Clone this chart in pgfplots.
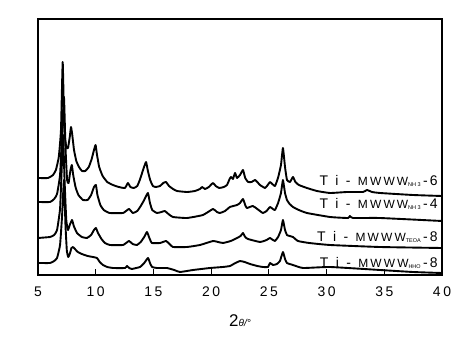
\documentclass[border=0pt]{standalone}
\usepackage{fontspec}
\setmainfont{Liberation Sans}
\newfontfamily\spfont[LetterSpace=18]{Liberation Sans}
\newfontfamily\spwfont[LetterSpace=25]{Liberation Sans}
\usepackage{pgfplots}
\pgfplotsset{compat=1.18}
\newcommand{\lab}[2]{{\spwfont\fontsize{14}{14}\selectfont T i - }{\spfont\fontsize{12}{12}\selectfont MWWW}{\fontsize{5.5}{5.5}\selectfont\raisebox{-2pt}{#1}}{\spwfont\fontsize{14}{14}\selectfont\,-\,#2}}
\pgfplotsset{xrdline/.style={black, line width=1.9pt, line join=round, smooth, tension=0.25, mark=none}}
\begin{document}
\begin{tikzpicture}
\begin{axis}[
  at={(0,0)}, anchor=south west,
  scale only axis, width=404bp, height=256bp,
  xmin=5, xmax=40, ymin=0, ymax=256,
  axis line style={line width=1.8pt},
  xtick={5,10,...,40}, ytick=\empty,
  tick align=inside, xtick pos=bottom,
  major tick length=6bp,
  tick style={line width=0.9pt, black},
  /pgf/number format/assume math mode=true,
  xticklabel style={font=\spfont\fontsize{14}{14}\selectfont, yshift=-8bp},
  xlabel={{\fontsize{17}{17}\selectfont 2}{\fontsize{10}{10}\selectfont\itshape θ/°}},
  xlabel style={yshift=-11bp},
  clip=false,
]
\addplot[xrdline] coordinates {
(5.00,97)(5.87,97)(6.30,100)(6.55,105)(6.80,118)(6.99,145)(7.14,213)(7.28,145)(7.45,128)(7.60,127)(7.75,138)(7.86,148)(7.97,140)(8.12,125)(8.32,114)(8.55,108)(8.81,104)(9.10,104)(9.40,108)(9.65,116)(9.85,125)(9.99,130)(10.10,121)(10.30,108)(10.60,99)(11.00,93)(11.49,90)(12.00,88)(12.53,87)(12.79,92)(13.00,88)(13.30,87)(13.60,89)(13.85,96)(14.10,105)(14.36,113)(14.52,104)(14.72,95)(14.95,89)(15.20,88)(15.57,89)(15.85,92)(16.09,93)(16.35,89)(16.70,86)(17.04,84)(17.91,83)(18.60,84)(19.03,86)(19.21,88)(19.47,86)(19.80,88)(20.16,92)(20.40,89)(20.70,87)(21.10,88)(21.37,90)(21.60,96)(21.72,98)(21.89,96)(22.07,102)(22.24,97)(22.50,100)(22.76,105)(22.95,97)(23.20,93)(23.50,93)(23.80,95)(24.00,93)(24.23,90)(24.67,87)(24.90,90)(25.10,93)(25.30,91)(25.53,89)(25.79,97)(26.05,110)(26.22,127)(26.40,108)(26.57,95)(26.83,93)(27.09,98)(27.30,93)(27.60,90)(28.30,87)(29.17,84)(30.30,82)(31.77,83)(33.16,83)(33.50,85)(33.94,83)(34.63,82)(37.49,80)(40.00,79)
};
\addplot[xrdline] coordinates {
(5.00,73)(6.04,73)(6.40,76)(6.65,81)(6.91,100)(7.08,140)(7.25,178)(7.38,128)(7.52,95)(7.65,92)(7.80,104)(7.93,110)(8.05,100)(8.25,88)(8.50,80)(8.90,75)(9.30,75)(9.60,80)(9.85,88)(10.02,90)(10.15,80)(10.40,70)(10.70,65)(11.20,62)(12.36,62)(12.88,66)(13.22,62)(13.60,64)(13.90,69)(14.20,75)(14.52,82)(14.70,72)(14.90,65)(15.30,62)(15.70,63)(15.99,64)(16.30,61)(16.69,58)(17.91,57)(19.29,60)(20.16,66)(20.50,63)(20.76,62)(21.20,64)(21.63,68)(22.24,70)(22.50,72)(22.76,76)(22.95,70)(23.10,67)(23.61,69)(24.00,66)(24.48,62)(24.80,64)(25.10,68)(25.35,66)(25.53,65)(25.80,72)(26.05,82)(26.22,95)(26.40,82)(26.57,75)(26.80,71)(27.09,68)(27.60,65)(28.30,62)(30.30,58)(31.85,57)(32.02,59)(32.28,57)(34.63,57)(40.00,54)
};
\addplot[xrdline] coordinates {
(5.00,37)(6.04,38)(6.40,40)(6.65,45)(6.91,66)(7.05,105)(7.17,140)(7.30,95)(7.45,55)(7.60,45)(7.75,50)(7.95,55)(8.10,49)(8.38,42)(8.80,38)(9.24,37)(9.60,40)(9.85,45)(10.02,47)(10.20,42)(10.50,36)(10.80,32)(11.23,30)(12.36,30)(12.88,34)(13.20,31)(13.57,30)(13.90,33)(14.20,38)(14.44,43)(14.65,37)(14.87,32)(15.57,32)(16.09,34)(16.40,31)(16.69,28)(17.91,28)(19.03,30)(20.16,34)(20.60,33)(21.03,32)(21.70,34)(22.24,37)(22.55,39)(22.76,42)(22.95,38)(23.19,36)(24.23,33)(24.80,35)(25.10,37)(25.35,35)(25.53,34)(25.80,38)(26.05,45)(26.22,55)(26.40,45)(26.57,40)(26.80,39)(27.09,38)(27.52,34)(28.50,32)(30.30,30)(34.63,28)(40.00,27)
};
\addplot[xrdline] coordinates {
(5.00,12)(6.04,12)(6.40,14)(6.65,17)(6.91,30)(7.08,58)(7.25,95)(7.38,50)(7.50,24)(7.62,18)(7.75,21)(7.90,27)(8.03,28)(8.20,26)(8.45,23)(8.80,21)(9.30,19)(9.76,18)(10.11,17)(10.35,13)(10.63,10)(11.00,8)(11.50,7)(12.54,7)(12.71,9)(12.90,7)(13.14,6)(13.50,7)(13.84,8)(14.20,12)(14.53,17)(14.70,12)(14.88,8)(15.31,7)(16.17,7)(16.80,5)(17.30,3)(18.43,5)(19.90,7)(21.00,8)(21.63,9)(22.10,12)(22.50,14)(22.90,13)(23.37,11)(24.00,9)(24.49,8)(24.93,8)(25.10,12)(25.36,10)(25.70,11)(25.96,14)(26.22,23)(26.40,16)(26.57,12)(27.09,10)(27.96,7)(30.30,8)(34.63,5)(37.49,3)(40.00,2)
};
\node[anchor=base east, inner sep=0pt] at (axis cs:39.65,90) {\lab{NH 3}{6}};
\node[anchor=base east, inner sep=0pt] at (axis cs:39.65,67) {\lab{NH 3}{4}};
\node[anchor=base east, inner sep=0pt] at (axis cs:39.65,34) {\lab{TEOA}{8}};
\node[anchor=base east, inner sep=0pt] at (axis cs:39.65,8) {\lab{HHO}{8}};
\end{axis}
\path[use as bounding box] (-38bp,-70bp) rectangle (433bp,275bp);
\end{tikzpicture}
\end{document}
